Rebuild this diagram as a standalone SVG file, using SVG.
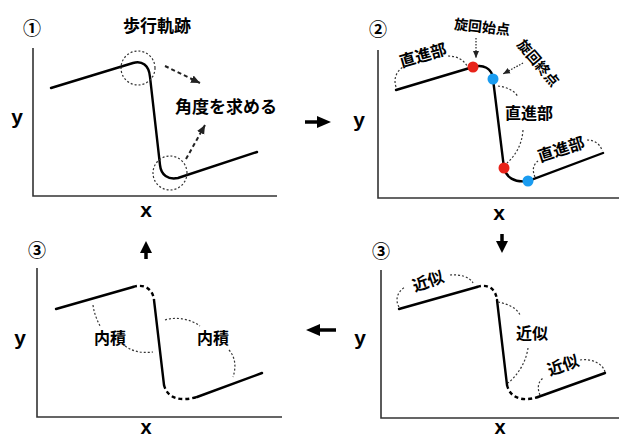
<svg xmlns="http://www.w3.org/2000/svg" width="619" height="437" viewBox="0 0 619 437">
<style>
.ax{fill:none;stroke:#333;stroke-width:1.6}
.cv{fill:none;stroke:#000;stroke-width:2.4;stroke-linecap:round}
.dc{fill:none;stroke:#000;stroke-width:2.4;stroke-dasharray:4 3}
.dt{fill:none;stroke:#333;stroke-width:1.2;stroke-dasharray:2 2}
.da{fill:none;stroke:#222;stroke-width:2;stroke-dasharray:4 3}
.dta{fill:none;stroke:#222;stroke-width:1.2;stroke-dasharray:1.5 1.5}
.lb{font-family:"Liberation Sans",Arial,sans-serif;font-weight:bold;font-size:21px;text-anchor:middle;fill:#000}
.jp{font-family:"Noto Sans CJK JP","Noto Sans CJK SC",sans-serif;font-weight:bold;font-size:16px;text-anchor:middle;fill:#000}
.num{font-family:"Noto Sans CJK JP","Noto Sans CJK SC",sans-serif;font-weight:bold;font-size:18px;text-anchor:middle;fill:#000}
.red{fill:#e8231a}
.blue{fill:#1a9cf0}
</style>
<defs>
<marker id="ah" markerUnits="userSpaceOnUse" markerWidth="10" markerHeight="10" refX="9" refY="5" orient="auto">
<path d="M0,1 L9,5 L0,9 Z" fill="#222"/>
</marker>
<marker id="ahs" markerUnits="userSpaceOnUse" markerWidth="8" markerHeight="8" refX="7" refY="4" orient="auto">
<path d="M0,1 L7,4 L0,7 Z" fill="#222"/>
</marker>
</defs>

<g id="panel1">
<text class="num" x="32" y="35">①</text>
<text class="jp" x="157" y="32" style="font-size:17px">歩行軌跡</text>
<path class="ax" d="M33,48 L33,196 L277,196"/>
<text class="lb" x="17" y="124">y</text>
<text class="lb" x="146" y="217">x</text>
<path class="cv" d="M51,88 L133,63 C142,60.5 149,65 150,77 L160,165 C161,175 168,180 178,178 L257,152"/>
<circle class="dt" cx="138" cy="68" r="17"/>
<circle class="dt" cx="170" cy="173" r="17"/>
<path class="da" d="M165,66 L200,83" marker-end="url(#ah)"/>
<path class="da" d="M186,159 L205,125" marker-end="url(#ah)"/>
<text class="jp" x="226" y="113" style="font-size:17px">角度を求める</text>
</g>

<g id="panel2">
<text class="num" x="378" y="36">②</text>
<path class="ax" d="M378,50 L378,198 L619,198"/>
<text class="lb" x="359" y="127">y</text>
<text class="lb" x="499" y="220">x</text>
<path class="cv" d="M396,90 L473,67 C483,64 492,68 493,79 L504,168 C506,177 514,183 528,181 L603,153"/>
<circle class="red" cx="473" cy="67" r="5.5"/>
<circle class="blue" cx="493" cy="79" r="5.5"/>
<circle class="red" cx="504" cy="168" r="5.5"/>
<circle class="blue" cx="528" cy="181" r="5.5"/>
<text class="jp" x="482" y="32" transform="rotate(6 482 27)" style="font-size:14px">旋回始点</text>
<path class="dta" d="M476,38 L476,58" marker-end="url(#ahs)"/>
<text class="jp" x="538" y="68" transform="rotate(50 538 63)" style="font-size:14px">旋回終点</text>
<path class="dta" d="M523,63 L503,74" marker-end="url(#ahs)"/>
<text class="jp" x="423" y="61" transform="rotate(-16 423 55)">直進部</text>
<path class="dt" d="M396,87 C393,78 397,70 405,66"/>
<path class="dt" d="M448,56 C457,56 464,60 467,66"/>
<text class="jp" x="529" y="119">直進部</text>
<path class="dt" d="M498,86 C507,87 515,91 518,97"/>
<path class="dt" d="M523,130 C522,145 515,156 507,163"/>
<text class="jp" x="561" y="155" transform="rotate(-18 561 149)">直進部</text>
<path class="dt" d="M535,177 C532,170 533,165 538,161"/>
<path class="dt" d="M587,140 C595,140 601,145 602,151"/>
</g>

<g id="panel3">
<text class="num" x="37" y="257">③</text>
<path class="ax" d="M37,268 L37,417 L282,417"/>
<text class="lb" x="20" y="345">y</text>
<text class="lb" x="146" y="434" style="font-size:20px">x</text>
<path class="cv" d="M56,309 L133,287"/>
<path class="dc" d="M133,287 C145,283 153,290 154,300"/>
<path class="cv" d="M154,300 L164,385"/>
<path class="dc" d="M164,385 C167,398 180,402 197,397"/>
<path class="cv" d="M197,397 L262,373"/>
<path class="dt" d="M93,305 C94,313 97,320 100,326"/>
<path class="dt" d="M125,346 C135,353 145,353 153,352"/>
<path class="dt" d="M165,320 C178,316 192,320 200,326"/>
<path class="dt" d="M229,350 C236,358 236,368 233,377"/>
<text class="jp" x="110" y="344">内積</text>
<text class="jp" x="213" y="344">内積</text>
</g>

<g id="panel4">
<text class="num" x="381" y="258">③</text>
<path class="ax" d="M381,270 L381,418 L619,418"/>
<text class="lb" x="360" y="345">y</text>
<text class="lb" x="500" y="434" style="font-size:20px">x</text>
<path class="cv" d="M399,309 L477,287"/>
<path class="dc" d="M477,287 C489,283 496,290 497,300"/>
<path class="cv" d="M497,300 L507,385"/>
<path class="dc" d="M507,385 C510,398 522,402 538,397"/>
<path class="cv" d="M538,397 L605,373"/>
<path class="dt" d="M399,307 C395,300 397,292 405,287"/>
<path class="dt" d="M450,275 C460,274 470,277 473,283"/>
<path class="dt" d="M498,302 C508,304 517,308 520,315"/>
<path class="dt" d="M528,348 C526,362 518,375 508,383"/>
<path class="dt" d="M540,395 C537,388 538,382 543,378"/>
<path class="dt" d="M580,360 C592,358 603,364 605,372"/>
<text class="jp" x="428" y="287" transform="rotate(-20 428 281)">近似</text>
<text class="jp" x="532" y="339">近似</text>
<text class="jp" x="563" y="371" transform="rotate(-20 563 365)">近似</text>
</g>

<g id="connectors">
<path d="M305,122 L319,122" stroke="#000" stroke-width="3.5" fill="none"/>
<path d="M317,116 L331,122 L317,128 Z" fill="#000"/>
<path d="M502,234 L502,243" stroke="#000" stroke-width="3.5" fill="none"/>
<path d="M496,241 L502,253 L508,241 Z" fill="#000"/>
<path d="M336,330 L318,330" stroke="#000" stroke-width="3.5" fill="none"/>
<path d="M320,324 L306,330 L320,336 Z" fill="#000"/>
<path d="M146,259 L146,250" stroke="#000" stroke-width="3.5" fill="none"/>
<path d="M140,253 L146,241 L152,253 Z" fill="#000"/>
</g>
</svg>
